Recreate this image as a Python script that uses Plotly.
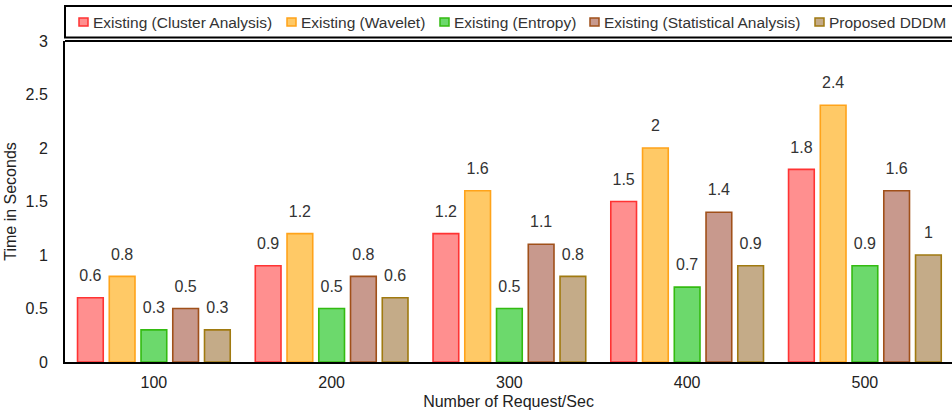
import plotly.graph_objects as go

# Request rates on the x axis and response time (seconds) per method
categories = ["100", "200", "300", "400", "500"]
series_names = [
    "Existing (Cluster Analysis)",
    "Existing (Wavelet)",
    "Existing (Entropy)",
    "Existing (Statistical Analysis)",
    "Proposed DDDM",
]
cluster_analysis = [0.6, 0.9, 1.2, 1.5, 1.8]
wavelet = [0.8, 1.2, 1.6, 2.0, 2.4]
entropy = [0.3, 0.5, 0.5, 0.7, 0.9]
statistical_analysis = [0.5, 0.8, 1.1, 1.4, 1.6]
proposed_dddm = [0.3, 0.6, 0.8, 0.9, 1.0]
y_ticks = [0, 0.5, 1, 1.5, 2, 2.5, 3]

series_values = [cluster_analysis, wavelet, entropy, statistical_analysis, proposed_dddm]
fill_colors = ["#FF8F8F", "#FFC966", "#6CD96C", "#C8998D", "#C4AB88"]
line_colors = ["#FF3333", "#FFA31A", "#33BB11", "#A0501A", "#A07A10"]

W, H = 952, 417
L, R, T, B = 65, 0, 41, 55
PW, PH = W - L - R, H - T - B


def xp(px):
    return (px - L) / PW


def yp(py):
    return (H - B - py) / PH


FONT = "Liberation Sans, Arial, sans-serif"
fig = go.Figure()

for name, vals, fc, lc in zip(series_names, series_values, fill_colors, line_colors):
    fig.add_trace(go.Bar(
        x=categories, y=vals, name=name, offsetgroup=name,
        marker=dict(color=fc, line=dict(color=lc, width=1.6)),
        showlegend=False, hoverinfo="x+y",
    ))

# value labels above each bar, aligned with the grouped bars
for name, vals in zip(series_names, series_values):
    fig.add_trace(go.Scatter(
        x=categories, y=vals, offsetgroup=name, mode="markers+text",
        text=[f"{v:g}" for v in vals], textposition="top center",
        textfont=dict(family=FONT, size=16, color="#333333"),
        marker=dict(size=19, color="rgba(0,0,0,0)"),
        showlegend=False, hoverinfo="skip", cliponaxis=False,
    ))

shapes = []
annotations = []

# legend frame above the plot and the top border of the plot area
shapes.append(dict(type="rect", xref="paper", yref="paper",
                   x0=xp(65), x1=xp(956), y0=yp(37.5), y1=yp(6),
                   line=dict(color="black", width=2), fillcolor="rgba(0,0,0,0)"))
shapes.append(dict(type="line", xref="paper", yref="paper",
                   x0=0, x1=xp(956), y0=1, y1=1,
                   line=dict(color="black", width=1.8)))

swatch_x = [83.5, 291.5, 444.5, 594.5, 819.5]
label_x = [91, 299, 452, 602, 827]
for name, fc, lc, sx, lx in zip(series_names, fill_colors, line_colors, swatch_x, label_x):
    shapes.append(dict(type="rect", xref="paper", yref="paper",
                       x0=xp(sx - 4.5), x1=xp(sx + 4.5), y0=yp(26), y1=yp(18),
                       line=dict(color=lc, width=1.5), fillcolor=fc))
    annotations.append(dict(text=name, xref="paper", yref="paper",
                            x=xp(lx), y=yp(22), xanchor="left", yanchor="middle",
                            showarrow=False,
                            font=dict(family=FONT, size=15.5, color="#333333")))

fig.update_layout(
    width=W, height=H,
    margin=dict(l=L, r=R, t=T, b=B, pad=0),
    paper_bgcolor="white", plot_bgcolor="white",
    barmode="group", bargap=0.107, bargroupgap=0.19,
    scattermode="group", scattergap=0.107,
    font=dict(family=FONT, size=16, color="#222222"),
    shapes=shapes, annotations=annotations,
    showlegend=False,
    xaxis=dict(
        range=[-0.5, 4.49],
        showline=True, linecolor="black", linewidth=2, ticks="",
        showgrid=False, zeroline=False, ticklabelstandoff=5,
        tickfont=dict(family=FONT, size=16, color="#222222"),
        title=dict(text="Number of Request/Sec", standoff=6,
                   font=dict(family=FONT, size=16, color="#222222")),
        automargin=False,
    ),
    yaxis=dict(
        range=[0, 3], tickvals=y_ticks, ticktext=[f"{t:g}" for t in y_ticks],
        showline=True, linecolor="black", linewidth=2, ticks="",
        showgrid=False, zeroline=False, ticklabelstandoff=12,
        tickfont=dict(family=FONT, size=16, color="#222222"),
        title=dict(text="Time in Seconds", standoff=5,
                   font=dict(family=FONT, size=16, color="#222222")),
        automargin=False,
    ),
)

fig.write_html("out.html")
